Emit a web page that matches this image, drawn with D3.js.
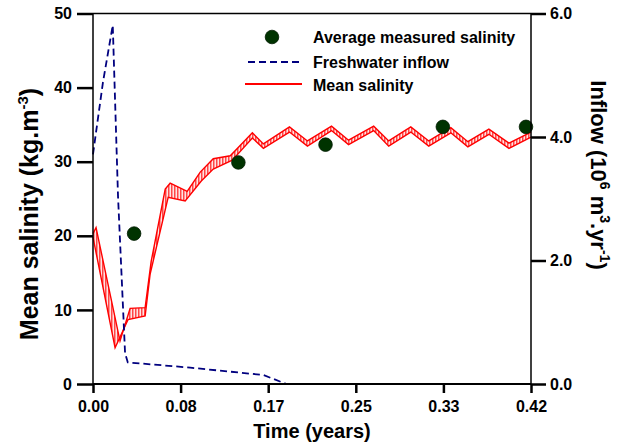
<!DOCTYPE html>
<html>
<head>
<meta charset="utf-8">
<script src="https://cdn.jsdelivr.net/npm/d3@7/dist/d3.min.js"></script>
<style>
  html, body { margin: 0; padding: 0; background: #fff; }
  svg { display: block; }
  text { font-family: Arial, "Liberation Sans", Helvetica, sans-serif; font-weight: bold; fill: #000; }
</style>
</head>
<body>
<svg id="chart" width="619" height="444"></svg>
<script>
// ---- data (time in years) ----
const xTickValues = [0, 1/12, 2/12, 3/12, 4/12, 5/12];
const xTickLabels = ["0.00", "0.08", "0.17", "0.25", "0.33", "0.42"];
const yLeftTicks = [0, 10, 20, 30, 40, 50];
const yRightTicks = [0, 2, 4, 6];
const yRightLabels = ["0.0", "2.0", "4.0", "6.0"];

// upper envelope of simulated mean salinity
const salMaxTime = [0.000, 0.0029, 0.0257, 0.0353, 0.0496, 0.0553, 0.0687, 0.0734, 0.0896, 0.1020, 0.1144, 0.1306,
  0.1516, 0.1621, 0.1869, 0.2040, 0.2269, 0.2431, 0.2670, 0.2813, 0.3023, 0.3194, 0.3404, 0.3566, 0.3766, 0.3957, 0.4167];
const salMax = [20.3, 21.1, 5.8, 10.2, 10.3, 16.5, 26.3, 27.1, 26.0, 28.6, 30.4, 30.8,
  33.9, 32.4, 34.7, 32.8, 34.8, 32.9, 34.8, 32.8, 34.7, 32.8, 34.6, 32.7, 34.4, 32.5, 34.0];

// lower envelope of simulated mean salinity
const salMinTime = [0.000, 0.0210, 0.0334, 0.0496, 0.0543, 0.0715, 0.0877, 0.1030, 0.1144, 0.1325,
  0.1516, 0.1621, 0.1869, 0.2040, 0.2269, 0.2431, 0.2670, 0.2813, 0.3023, 0.3194, 0.3404, 0.3566, 0.3766, 0.3957, 0.4167];
const salMin = [19.8, 4.9, 8.7, 9.2, 14.8, 25.2, 24.7, 27.4, 29.0, 30.2,
  33.2, 31.8, 34.0, 32.1, 34.2, 32.3, 34.2, 32.1, 34.0, 32.1, 33.9, 32.0, 33.7, 31.8, 33.3];

// freshwater inflow (10^6 m3/yr)
const inflowTime = [0.000, 0.0095, 0.0188, 0.0238, 0.0305, 0.0331, 0.0925, 0.1620, 0.1840];
const inflow = [3.72, 4.89, 5.81, 3.04, 0.50, 0.35, 0.265, 0.146, 0.0];

// average measured salinity
const measTime = [0.0391, 0.1383, 0.2212, 0.3328, 0.4119];
const measSal = [20.3, 29.9, 32.3, 34.7, 34.7];

// ---- layout ----
const L = 93, R = 531, T = 13.5, B = 384;
const svg = d3.select("#chart");

const defs = svg.append("defs");
const pat = defs.append("pattern").attr("id", "hatch")
  .attr("patternUnits", "userSpaceOnUse").attr("width", 3).attr("height", 6);
pat.append("rect").attr("width", 3).attr("height", 6).attr("fill", "#ffe4e4");
pat.append("line").attr("x1", 0.8).attr("x2", 0.8).attr("y1", 0).attr("y2", 6)
  .attr("stroke", "#ff2020").attr("stroke-width", 1.2);

const x = d3.scaleLinear().domain([0, 5/12]).range([L, R]);
const yL = d3.scaleLinear().domain([0, 50]).range([B, T]);
const yR = d3.scaleLinear().domain([0, 6]).range([B, T]);

// band
const upper = salMaxTime.map((t, i) => [x(t), yL(salMax[i])]);
const lower = salMinTime.map((t, i) => [x(t), yL(salMin[i])]);
const poly = upper.concat(lower.slice().reverse());
svg.append("path").attr("d", d3.line()(poly) + "Z")
  .attr("fill", "url(#hatch)").attr("stroke", "none");
const ln = d3.line();
svg.append("path").attr("d", ln(upper)).attr("fill", "none").attr("stroke", "#ff0000").attr("stroke-width", 1.4);
svg.append("path").attr("d", ln(lower)).attr("fill", "none").attr("stroke", "#ff0000").attr("stroke-width", 1.4);

// inflow
const inflowLine = d3.line().x(d => x(d[0])).y(d => yR(d[1]));
svg.append("path").attr("d", inflowLine(inflowTime.map((t, i) => [t, inflow[i]])))
  .attr("fill", "none").attr("stroke", "#00007f").attr("stroke-width", 1.8)
  .attr("stroke-dasharray", "7,4");

// measured points
svg.selectAll("circle.meas").data(measTime).enter().append("circle")
  .attr("class", "meas")
  .attr("cx", d => x(d)).attr("cy", (d, i) => yL(measSal[i])).attr("r", 6.8)
  .attr("fill", "#003300").attr("stroke", "#001a00").attr("stroke-width", 0.8);

// frame
svg.append("line").attr("x1", L).attr("x2", R).attr("y1", T).attr("y2", T).attr("stroke", "#000").attr("stroke-width", 1.5);
svg.append("line").attr("x1", L).attr("x2", L).attr("y1", T).attr("y2", B).attr("stroke", "#000").attr("stroke-width", 1.5);
svg.append("line").attr("x1", R).attr("x2", R).attr("y1", T).attr("y2", B).attr("stroke", "#000").attr("stroke-width", 1.5);
svg.append("line").attr("x1", L).attr("x2", R).attr("y1", B).attr("y2", B).attr("stroke", "#000").attr("stroke-width", 2);

// axes
const axL = svg.append("g").attr("transform", `translate(${L},0)`)
  .call(d3.axisLeft(yL).tickValues(yLeftTicks).tickSize(16).tickPadding(5).tickFormat(d3.format("d")));
const axR = svg.append("g").attr("transform", `translate(${R},0)`)
  .call(d3.axisRight(yR).tickValues(yRightTicks).tickSize(15).tickPadding(4).tickFormat((d, i) => yRightLabels[i]));
const axB = svg.append("g").attr("transform", `translate(0,${B})`)
  .call(d3.axisBottom(x).tickValues(xTickValues).tickSize(9).tickPadding(8).tickFormat((d, i) => xTickLabels[i]));
[axL, axR, axB].forEach(g => {
  g.select(".domain").remove();
  g.selectAll(".tick line").attr("stroke", "#000").attr("stroke-width", 2.5);
  g.selectAll(".tick text").style("font-size", "16px").style("font-weight", "bold")
    .style("font-family", "Arial, 'Liberation Sans', Helvetica, sans-serif").attr("fill", "#000");
});

// axis titles
svg.append("text").attr("x", 312).attr("y", 438).attr("text-anchor", "middle")
  .style("font-size", "20px").text("Time (years)");

const lt = svg.append("text").attr("transform", "translate(38,214) rotate(-90)")
  .attr("text-anchor", "middle").style("font-size", "25px");
lt.append("tspan").text("Mean salinity (kg.m");
lt.append("tspan").attr("dy", -10).style("font-size", "15px").text("-3");
lt.append("tspan").attr("dy", 10).text(")");

const rt = svg.append("text").attr("transform", "translate(591,175) rotate(90)")
  .attr("text-anchor", "middle").style("font-size", "22px");
rt.append("tspan").text("Inflow (10");
rt.append("tspan").attr("dy", -9).style("font-size", "14px").text("6");
rt.append("tspan").attr("dy", 9).text(" m");
rt.append("tspan").attr("dy", -9).style("font-size", "14px").text("3");
rt.append("tspan").attr("dy", 9).text(".yr");
rt.append("tspan").attr("dy", -9).style("font-size", "14px").text("-1");
rt.append("tspan").attr("dy", 9).text(")");

// legend
const lg = svg.append("g");
lg.append("circle").attr("cx", 272).attr("cy", 37).attr("r", 6.8).attr("fill", "#003300").attr("stroke", "#001a00").attr("stroke-width", 0.8);
lg.append("line").attr("x1", 248).attr("x2", 302).attr("y1", 62).attr("y2", 62)
  .attr("stroke", "#00007f").attr("stroke-width", 1.8).attr("stroke-dasharray", "7,4");
lg.append("line").attr("x1", 245).attr("x2", 302).attr("y1", 84).attr("y2", 84)
  .attr("stroke", "#ff0000").attr("stroke-width", 2);
const legendLabels = ["Average measured salinity", "Freshwater inflow", "Mean salinity"];
const legendY = [43, 68, 91];
legendLabels.forEach((s, i) => {
  lg.append("text").attr("x", 313).attr("y", legendY[i]).style("font-size", "16px").text(s);
});
</script>
</body>
</html>
